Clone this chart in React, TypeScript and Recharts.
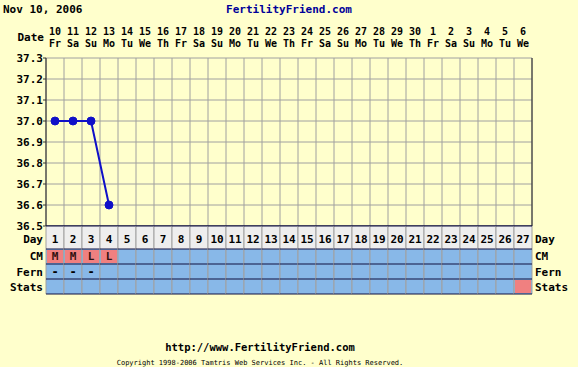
import { LineChart, Line, XAxis, YAxis, CartesianGrid } from 'recharts';

const days = [1, 2, 3, 4, 5, 6, 7, 8, 9, 10, 11, 12, 13, 14, 15, 16, 17, 18, 19, 20, 21, 22, 23, 24, 25, 26, 27];
const dates = [10, 11, 12, 13, 14, 15, 16, 17, 18, 19, 20, 21, 22, 23, 24, 25, 26, 27, 28, 29, 30, 1, 2, 3, 4, 5, 6];
const weekdays = ['Fr', 'Sa', 'Su', 'Mo', 'Tu', 'We', 'Th', 'Fr', 'Sa', 'Su', 'Mo', 'Tu', 'We', 'Th',
  'Fr', 'Sa', 'Su', 'Mo', 'Tu', 'We', 'Th', 'Fr', 'Sa', 'Su', 'Mo', 'Tu', 'We'];
const temps = [37.0, 37.0, 37.0, 36.6];
const cervicalMucus = ['M', 'M', 'L', 'L'];
const fern = ['-', '-', '-'];
const statsMarked = [27];
const tempTicks = [36.5, 36.6, 36.7, 36.8, 36.9, 37.0, 37.1, 37.2, 37.3];
const cellEdges = [0.5, 1.5, 2.5, 3.5, 4.5, 5.5, 6.5, 7.5, 8.5, 9.5, 10.5, 11.5, 12.5, 13.5, 14.5,
  15.5, 16.5, 17.5, 18.5, 19.5, 20.5, 21.5, 22.5, 23.5, 24.5, 25.5, 26.5, 27.5];

const rows = days.map((d, i) => ({
  day: d,
  date: dates[i],
  dow: weekdays[i],
  temp: temps[i] ?? null,
  cm: cervicalMucus[i] ?? '',
  fern: fern[i] ?? '',
  stat: statsMarked.includes(d),
}));

const FONT = '"DejaVu Sans Mono", monospace';
const CELL = 18;
const BG = '#FFFFCC';
const GRID = '#A0A0A0';
const NAVY = '#101040';
const BLUE_CELL = '#88B8E8';
const RED_CELL = '#F08080';
const LINE = '#1010C8';

const txt = { fontFamily: FONT, fontSize: 11, fontWeight: 'bold' as const, fill: '#000' };
const topTxt = { ...txt, fontSize: 10 };

const TopTick = (props: any) => {
  const { x, y, payload, index } = props;
  const r = rows.find(o => o.day === payload.value);
  if (!r) return null;
  return (
    <g>
      <text x={x} y={y - 23} textAnchor="middle" {...topTxt}>{r.date}</text>
      <text x={x} y={y - 11} textAnchor="middle" {...topTxt}>{r.dow}</text>
      {index === 0 && <text x={x - 11} y={y - 17} textAnchor="end" {...txt}>Date</text>}
    </g>
  );
};

const RowsTick = (props: any) => {
  const { x, y, payload, index } = props;
  const r = rows.find(o => o.day === payload.value);
  if (!r) return null;
  const left = x - CELL / 2;
  const right = x + CELL / 2;
  const labels = ['Day', 'CM', 'Fern', 'Stats'];
  const baselines = [17, 34, 50, 65];
  return (
    <g>
      <rect x={left} y={y} width={CELL} height={23} fill="#EEEEEE" />
      <rect x={left} y={y + 23} width={CELL} height={45} fill={BLUE_CELL} />
      {r.cm && <rect x={left + 1} y={y + 24} width={CELL - 2} height={13} fill={RED_CELL} />}
      {r.stat && <rect x={left + 1} y={y + 54} width={CELL - 2} height={13} fill={RED_CELL} />}
      <line x1={left} x2={left} y1={y} y2={y + 68} stroke={GRID} />
      <line x1={right} x2={right} y1={y} y2={y + 68} stroke={GRID} />
      {[0, 23, 38, 53, 68].map(h => (
        <line key={h} x1={left} x2={right} y1={y + h} y2={y + h} stroke={NAVY} />
      ))}
      <text x={x} y={y + 17} textAnchor="middle" {...txt}>{r.day}</text>
      {r.cm && <text x={x} y={y + 34} textAnchor="middle" {...txt} fill="#301010">{r.cm}</text>}
      {r.fern && <text x={x} y={y + 50} textAnchor="middle" {...txt} fontSize={12}>{r.fern}</text>}
      {index === 0 && labels.map((l, i) => (
        <text key={l} x={left - 3} y={y + baselines[i]} textAnchor="end" {...txt}>{l}</text>
      ))}
      {index === days.length - 1 && labels.map((l, i) => (
        <text key={l} x={right + 3} y={y + baselines[i]} textAnchor="start" {...txt}>{l}</text>
      ))}
    </g>
  );
};

// vertical grid at cell edges, from the plot offset (same linear mapping as the x scale)
const edgeLines = ({ offset }: any) =>
  cellEdges.map(e => offset.left + ((e - 0.5) / 27) * offset.width);

export default function App() {
  return (
    <div style={{ position: 'relative', width: 578, height: 367, background: BG }}>
      <style>{'body{margin:0}'}</style>
      <LineChart width={578} height={367} data={rows} margin={{ top: 0, right: 0, bottom: 73, left: 0 }}>
        <CartesianGrid stroke={GRID} verticalCoordinatesGenerator={edgeLines} />
        <XAxis
          dataKey="day"
          type="number"
          domain={[0.5, 27.5]}
          ticks={days}
          interval={0}
          height={68}
          tickSize={0}
          tickMargin={0}
          tickLine={false}
          axisLine={{ stroke: NAVY }}
          tick={<RowsTick />}
        />
        <XAxis
          xAxisId="top"
          dataKey="day"
          type="number"
          orientation="top"
          domain={[0.5, 27.5]}
          ticks={days}
          interval={0}
          height={58}
          tickSize={0}
          tickMargin={0}
          tickLine={false}
          axisLine={false}
          tick={<TopTick />}
        />
        <YAxis
          type="number"
          domain={[36.5, 37.3]}
          ticks={tempTicks}
          interval={0}
          width={46}
          tickSize={3}
          tickMargin={0}
          tickLine={{ stroke: '#333' }}
          axisLine={{ stroke: '#222' }}
          tickFormatter={(v: number) => v.toFixed(1)}
          tick={txt}
        />
        <YAxis
          yAxisId="right"
          orientation="right"
          type="number"
          domain={[36.5, 37.3]}
          ticks={tempTicks}
          interval={0}
          width={46}
          tickSize={3}
          tickMargin={0}
          tickLine={{ stroke: '#333' }}
          axisLine={{ stroke: '#222' }}
          tickFormatter={(v: number) => v.toFixed(1)}
          tick={txt}
        />
        <Line
          dataKey="temp"
          stroke={LINE}
          strokeWidth={2}
          dot={{ r: 4, fill: LINE, stroke: LINE, strokeWidth: 1 }}
          isAnimationActive={false}
        />
      </LineChart>
      <svg width={578} height={367} style={{ position: 'absolute', left: 0, top: 0, pointerEvents: 'none' }}>
        <text x={3} y={13} {...txt}>Nov 10, 2006</text>
        <text x={289} y={13} textAnchor="middle" {...txt} fill="#000099">FertilityFriend.com</text>
        <text x={260} y={351} textAnchor="middle" {...txt} fontSize={10.5}>http://www.FertilityFriend.com</text>
        <text x={260} y={365} textAnchor="middle" fontFamily={FONT} fontSize={7} fill="#000">
          Copyright 1998-2006 Tamtris Web Services Inc. - All Rights Reserved.
        </text>
      </svg>
    </div>
  );
}
